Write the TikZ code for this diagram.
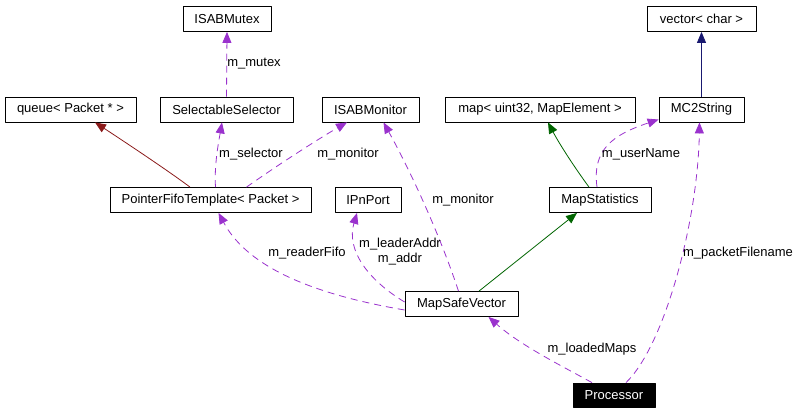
\documentclass[tikz,border=0pt]{standalone}
\usepackage{fontspec}
\setmainfont{Liberation Sans}
\usetikzlibrary{arrows.meta}
\definecolor{usecol}{RGB}{154,50,205}
\definecolor{privcol}{RGB}{139,26,26}
\definecolor{pubcol}{RGB}{0,100,0}
\definecolor{navycol}{RGB}{25,25,112}
\begin{document}
\begin{tikzpicture}[x=1pt, y=-1pt, font=\fontsize{13pt}{15pt}\selectfont, line join=round,
		cls/.style={draw, line width=0.8pt, inner sep=0pt, minimum height=25pt},
		uses/.style={usecol, line width=0.8pt, dash pattern=on 7pt off 5pt, -{Triangle[length=11pt,width=9pt]}},
		inh/.style={line width=0.8pt, -{Triangle[length=11pt,width=9pt]}},
		lab/.style={inner sep=0pt, align=center}]
				\useasboundingbox (0,0) rectangle (801,413);
				
				\node[cls, minimum width=88pt] (mutex) at (227,19) {ISABMutex};
				\node[cls, minimum width=109pt] (vec) at (701.5,19) {vector< char >};
				\node[cls, minimum width=131pt] (queue) at (70.5,109.5) {queue< Packet * >};
				\node[cls, minimum width=133pt] (selsel) at (226.5,109.5) {SelectableSelector};
				\node[cls, minimum width=97pt] (monitor) at (370.5,109.5) {ISABMonitor};
				\node[cls, minimum width=190pt] (map) at (540,109.5) {map< uint32, MapElement >};
				\node[cls, minimum width=85pt] (mcstr) at (701.5,109.5) {MC2String};
				\node[cls, minimum width=201pt] (fifo) at (210.5,200) {PointerFifoTemplate< Packet >};
				\node[cls, minimum width=66pt] (ipn) at (368,200) {IPnPort};
				\node[cls, minimum width=102pt] (mapstat) at (600,200) {MapStatistics};
				\node[cls, minimum width=113pt] (msv) at (461.5,304) {MapSafeVector};
				\node[cls, minimum width=82pt, minimum height=24pt, fill=black, text=white] (proc) at (614,395) {Processor};
				
				\draw[uses] (selsel.north) -- (mutex.south);
				\node[lab] (lmutex) at (254,64) {m\_mutex};
				
				\draw[inh, privcol] ([xshift=-20.5pt]fifo.north) .. controls (170,172) and (125,142) .. ([xshift=24.5pt]queue.south);
				\draw[uses] ([xshift=5pt]fifo.north) .. controls (214,165) and (219,140) .. ([xshift=-4.5pt]selsel.south);
				\node[lab] (lselector) at (251,154) {m\_selector};
				\draw[uses] ([xshift=36pt]fifo.north) .. controls (285,160) and (325,135) .. ([xshift=-23.5pt]monitor.south);
				\node[lab] (lmonitorA) at (348,154) {m\_monitor};
				
				\draw[uses] ([xshift=-3pt]msv.north) .. controls (440,235) and (410,170) .. ([xshift=13pt]monitor.south);
				\node[lab] (lmonitorB) at (463,200) {m\_monitor};
				\draw[uses] ([yshift=-6pt]msv.west) .. controls (300,292) and (245,262) .. ([xshift=8pt]fifo.south);
				\node[lab] (lreader) at (307,253) {m\_readerFifo};
				\draw[uses] ([yshift=2pt]msv.west) .. controls (368,280) and (346,250) .. ([xshift=-11pt]ipn.south);
				\node[lab] (laddr) at (400,252) {m\_leaderAddr\\m\_addr};
				\draw[inh, pubcol] ([xshift=17.5pt]msv.north) -- ([xshift=-23pt]mapstat.south);
				
				\draw[inh, pubcol] ([xshift=-11pt]mapstat.north) .. controls (575,168) and (560,145) .. ([xshift=8pt]map.south);
				\draw[uses] ([xshift=-3pt]mapstat.north) .. controls (592,150) and (612,135) .. ([yshift=-10pt]mcstr.west);
				\node[lab] (luser) at (641,154) {m\_userName};
				\draw[inh, navycol] (mcstr.north) -- (vec.south);
				
				\draw[uses] ([xshift=-22pt]proc.north) .. controls (560,365) and (520,345) .. ([xshift=27pt]msv.south);
				\node[lab] (lloaded) at (592,349) {m\_loadedMaps};
				\draw[uses] ([xshift=12pt]proc.north) .. controls (665,345) and (698,220) .. ([xshift=-2pt]mcstr.south);
				\node[lab] (lpacket) at (738,253) {m\_packetFilename};
		\end{tikzpicture}
\end{document}
